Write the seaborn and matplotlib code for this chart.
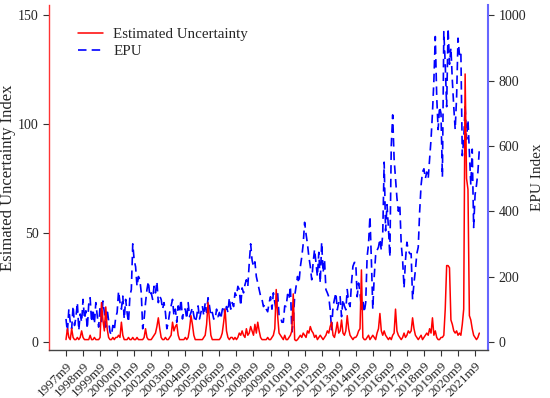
import numpy as np
import pandas as pd
import seaborn as sns
import matplotlib.pyplot as plt

# monthly data, 1997m9 .. 2021m12, rows = Sep..Aug
uncertainty = [
    1, 6, 2, 1, 6, 2, 1, 1, 2, 1, 2, 5,
    2, 1, 1, 1, 1, 3, 1, 1, 2, 1, 1, 1,
    2, 18, 10, 5, 16, 6, 2, 1, 1, 2, 1, 2,
    2, 3, 2, 9, 3, 1, 1, 1, 2, 1, 1, 2,
    1, 1, 2, 1, 1, 1, 1, 2, 6, 2, 1, 1,
    1, 2, 3, 4, 7, 11, 6, 2, 1, 1, 2, 1,
    1, 2, 3, 9, 5, 7, 8, 3, 1, 1, 1, 1,
    2, 1, 2, 6, 12, 8, 3, 1, 1, 1, 1, 1,
    1, 2, 3, 8, 18, 10, 3, 1, 1, 1, 1, 1,
    1, 2, 4, 9, 15, 5, 2, 1, 2, 2, 1, 2,
    1, 2, 4, 3, 5, 3, 2, 6, 3, 4, 7, 5,
    3, 8, 4, 9, 5, 2, 1, 1, 1, 1, 2, 1,
    1, 2, 3, 6, 24, 12, 4, 3, 2, 1, 3, 1,
    1, 2, 3, 5, 22, 1, 0.5, 1, 2, 3, 2, 4,
    3, 2, 5, 4, 7, 5, 4, 2, 3, 1, 2, 3,
    2, 1, 2, 3, 5, 4, 7, 9, 3, 2, 5, 9,
    4, 5, 10, 4, 3, 5, 12, 6, 3, 2, 1, 2,
    2, 3, 5, 6, 33, 2, 1, 1, 2, 3, 1, 2,
    3, 2, 1, 4, 6, 13, 5, 3, 5, 3, 2, 1,
    2, 1, 3, 4, 15, 5, 3, 2, 1, 2, 4, 2,
    3, 5, 4, 5, 11, 6, 3, 2, 1, 2, 3, 1,
    2, 3, 4, 3, 6, 4, 11, 3, 5, 2, 1, 1,
    2, 2, 3, 15, 35, 35, 34, 10, 8, 5, 4, 5,
    3, 4, 3, 8, 15, 123, 75, 70, 12, 10, 6, 3,
    2, 1, 2, 4,
]

epu = [
    70, 30, 100, 60, 40, 110, 50, 75, 120, 35, 85, 60,
    130, 70, 95, 40, 115, 135, 60, 100, 55, 120, 80, 45,
    110, 60, 125, 90, 45, 100, 65, 30, 20, 50, 35, 75,
    90, 155, 120, 100, 140, 70, 130, 90, 60, 140, 160, 300,
    250, 230, 170, 200, 190, 150, 40, 70, 120, 160, 185, 140,
    150, 130, 170, 150, 185, 120, 140, 130, 100, 120, 90, 40,
    60, 90, 110, 130, 80, 100, 60, 110, 90, 130, 70, 100,
    100, 70, 120, 77, 90, 105, 80, 60, 77, 110, 70, 90,
    110, 80, 120, 90, 135, 110, 80, 90, 70, 68, 100, 77,
    90, 70, 98, 110, 80, 108, 90, 135, 100, 120, 108, 150,
    140, 170, 160, 110, 165, 150, 175, 190, 170, 240, 300, 250,
    230, 245, 200, 180, 160, 140, 130, 108, 114, 100, 92, 120,
    138, 100, 150, 120, 98, 150, 80, 77, 60, 60, 110, 108,
    145, 130, 170, 30, 60, 140, 170, 200, 180, 230, 260, 300,
    366, 330, 300, 260, 231, 190, 243, 283, 240, 200, 274, 180,
    305, 212, 252, 160, 150, 138, 98, 37, 108, 130, 150, 98,
    120, 138, 77, 130, 110, 98, 160, 120, 108, 180, 231, 243,
    243, 138, 180, 150, 100, 130, 90, 120, 260, 300, 385, 250,
    100, 200, 265, 280, 290, 315, 280, 330, 550, 340, 420, 350,
    260, 600, 695, 560, 500, 440, 400, 420, 300, 250, 165, 250,
    305, 280, 270, 270, 130, 180, 220, 270, 290, 400, 480, 520,
    530, 500, 520, 500, 560, 620, 700, 800, 935, 750, 650, 720,
    700, 505, 950, 850, 720, 960, 850, 900, 800, 720, 650, 750,
    930, 880, 890, 570, 620, 720, 620, 680, 580, 480, 590, 350,
    450, 480, 520, 590,
]

tick_labels = [f"{y}m9" for y in range(1997, 2022)]

df = pd.DataFrame({"month": np.arange(len(uncertainty)),
                   "uncertainty": uncertainty,
                   "epu": epu})

sns.set_style("white")
plt.rcParams["font.family"] = ["Liberation Serif", "DejaVu Serif"]

fig = plt.figure(figsize=(5.5, 3.98), dpi=100)
ax = fig.add_axes([0.089, 0.121, 0.798, 0.866])
ax2 = ax.twinx()

sns.lineplot(data=df, x="month", y="epu", ax=ax2, color="#0000ff",
             linewidth=1.2, label="EPU")
ax2.lines[0].set_dashes((5.1, 3.1))
sns.lineplot(data=df, x="month", y="uncertainty", ax=ax, color="#ff0000",
             linewidth=1.1, label="Estimated Uncertainty")

# red series drawn above the blue one
ax.set_zorder(ax2.get_zorder() + 1)
ax.patch.set_visible(False)

ax.set_xlim(-12, 297)
ax.set_ylim(-3.7, 154.6)
ax2.set_ylim(-24.6, 1031)
ax.set_xticks(np.arange(0, 289, 12))
ax.set_xticklabels(tick_labels, rotation=45, ha="right", rotation_mode="anchor",
                   fontsize=9.5)
ax.set_yticks([0, 50, 100, 150])
ax2.set_yticks([0, 200, 400, 600, 800, 1000])
ax.tick_params(axis="y", labelsize=10, length=4, direction="out", left=True, color="#333333")
ax.tick_params(axis="x", length=4, direction="out", bottom=True, color="#333333")
ax2.tick_params(axis="y", labelsize=10, length=4, direction="out", right=True, color="#333333")

ax.set_xlabel("")
ax.set_ylabel("Esimated Uncertainty Index", fontsize=12)
ax.yaxis.set_label_coords(-0.076, 0.5)
ax2.set_ylabel("EPU Index", fontsize=11)
ax2.yaxis.set_label_coords(1.098, 0.5)

for a in (ax, ax2):
    a.spines["top"].set_visible(False)
ax2.spines["left"].set_visible(False)
ax2.spines["bottom"].set_visible(False)
ax.spines["right"].set_visible(False)
ax.spines["left"].set_color("#ff3333")
ax2.spines["right"].set_color("#6666ff")
ax.spines["bottom"].set_color("#444444")
for s in ("left", "bottom"):
    ax.spines[s].set_linewidth(1.0)
ax2.spines["right"].set_linewidth(1.5)

h1, l1 = ax.get_legend_handles_labels()
h2, l2 = ax2.get_legend_handles_labels()
ax2.get_legend().remove()
ax.legend(h1 + h2, l1 + l2, loc="upper left", bbox_to_anchor=(0.066, 0.935),
          borderaxespad=0, borderpad=0, frameon=False, fontsize=10.8,
          handlelength=1.7, handletextpad=0.65, labelspacing=0.25)

fig.savefig("out.png", dpi=100)
